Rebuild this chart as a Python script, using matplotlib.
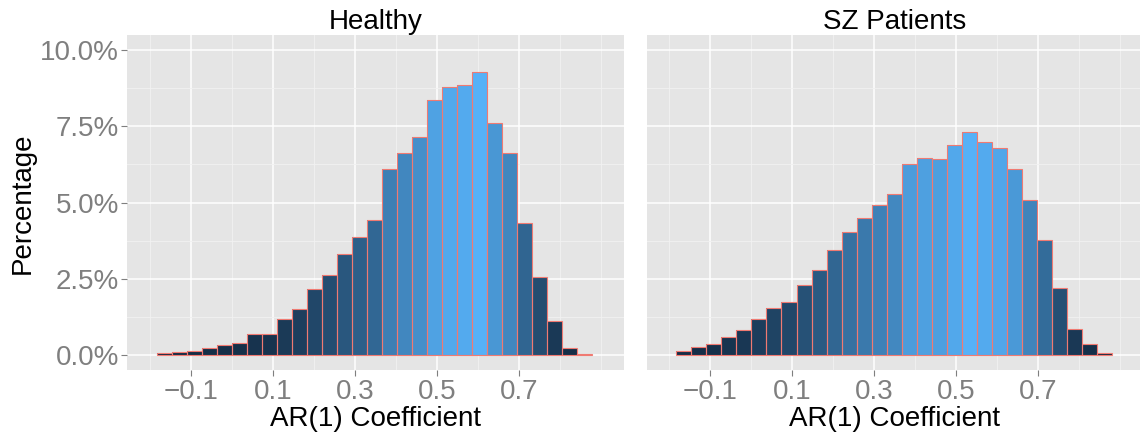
import numpy as np
import matplotlib
matplotlib.use("Agg")
import matplotlib.pyplot as plt

# Histogram of AR(1) coefficients: percentage of values per bin
bin_start = -0.182
bin_width = 0.0366
healthy_pct = [0.055, 0.11, 0.14, 0.24, 0.32, 0.40, 0.68, 0.68, 1.17, 1.51,
               2.17, 2.63, 3.31, 3.87, 4.44, 6.09, 6.61, 7.15, 8.35, 8.78,
               8.85, 9.29, 7.62, 6.61, 4.32, 2.57, 1.10, 0.24, 0.02]
sz_pct = [0.13, 0.27, 0.37, 0.60, 0.82, 1.17, 1.54, 1.73, 2.31, 2.78,
          3.44, 4.03, 4.49, 4.91, 5.27, 6.27, 6.47, 6.44, 6.88, 7.31,
          6.98, 6.78, 6.11, 5.07, 3.76, 2.20, 0.87, 0.36, 0.06]
panel_titles = ["Healthy", "SZ Patients"]
x_breaks = [-0.1, 0.1, 0.3, 0.5, 0.7]
x_minor = [-0.2, 0.0, 0.2, 0.4, 0.6, 0.8, 0.9]
y_breaks = [0.0, 2.5, 5.0, 7.5, 10.0]
y_minor = [1.25, 3.75, 6.25, 8.75]
y_labels = ["0.0%", "2.5%", "5.0%", "7.5%", "10.0%"]

plt.rcParams["font.family"] = ["Liberation Sans", "DejaVu Sans"]

# --- colour gradient in CIE Lab (low -> high) ---
def _hex_to_rgb(h):
    h = h.lstrip("#")
    return np.array([int(h[i:i + 2], 16) / 255 for i in (0, 2, 4)])

_M = np.array([[0.4124564, 0.3575761, 0.1804375],
               [0.2126729, 0.7151522, 0.0721750],
               [0.0193339, 0.1191920, 0.9503041]])
_WHITE = np.array([0.95047, 1.0, 1.08883])

def _rgb_to_lab(rgb):
    lin = np.where(rgb <= 0.04045, rgb / 12.92, ((rgb + 0.055) / 1.055) ** 2.4)
    xyz = _M @ lin / _WHITE
    f = np.where(xyz > 216 / 24389, np.cbrt(xyz), (24389 / 27 * xyz + 16) / 116)
    return np.array([116 * f[1] - 16, 500 * (f[0] - f[1]), 200 * (f[1] - f[2])])

def _lab_to_rgb(lab):
    L, a, b = lab
    fy = (L + 16) / 116
    fx = fy + a / 500
    fz = fy - b / 200
    f = np.array([fx, fy, fz])
    xyz = np.where(f ** 3 > 216 / 24389, f ** 3, (116 * f - 16) / (24389 / 27)) * _WHITE
    lin = np.linalg.solve(_M, xyz)
    rgb = np.where(lin <= 0.0031308, 12.92 * lin, 1.055 * np.clip(lin, 0, None) ** (1 / 2.4) - 0.055)
    return np.clip(rgb, 0, 1)

LOW, HIGH = _rgb_to_lab(_hex_to_rgb("#132B43")), _rgb_to_lab(_hex_to_rgb("#56B1F7"))

def gradient(values):
    v = np.asarray(values, float)
    t = (v - v.min()) / (v.max() - v.min())
    return [_lab_to_rgb(LOW + ti * (HIGH - LOW)) for ti in t]

# --- figure layout (pixel based) ---
W, H = 1140, 437
fig = plt.figure(figsize=(W / 100, H / 100), dpi=100)
panel_top, panel_bot = 34.7, 370.3
panel_w = 496.2
lefts = [127.3, 646.5]
xlim = (-0.255, 0.955)
ylim = (-0.5, 10.5)

for i, (pct, title) in enumerate(zip([healthy_pct, sz_pct], panel_titles)):
    ax = fig.add_axes([lefts[i] / W, 1 - panel_bot / H, panel_w / W, (panel_bot - panel_top) / H])
    ax.set_facecolor("#E5E5E5")
    for s in ax.spines.values():
        s.set_visible(False)
    ax.set_xlim(*xlim)
    ax.set_ylim(*ylim)

    ax.set_xticks(x_breaks)
    ax.set_xticklabels([f"{b:.1f}".replace("-", "\u2212") for b in x_breaks])
    ax.set_xticks(x_minor, minor=True)
    ax.set_yticks(y_breaks)
    ax.set_yticks(y_minor, minor=True)
    ax.grid(which="major", color="white", linewidth=1.1)
    ax.grid(which="minor", color="#F2F2F2", linewidth=0.6)
    ax.set_axisbelow(True)
    ax.tick_params(which="minor", length=0)
    ax.tick_params(axis="x", which="major", length=4, width=0.8, color="#7F7F7F",
                   labelcolor="#7F7F7F", labelsize=20, pad=2.5)
    if i == 0:
        ax.set_yticklabels(y_labels)
        ax.tick_params(axis="y", which="major", length=4, width=0.8, color="#7F7F7F",
                       labelcolor="#7F7F7F", labelsize=20, pad=2)
    else:
        ax.tick_params(axis="y", which="major", length=0, labelleft=False)

    n = len(pct)
    edges = bin_start + bin_width * np.arange(n)
    # fills first, outlines on top so every shared edge stays visible
    ax.bar(edges, pct, width=bin_width, align="edge", color=gradient(pct),
           linewidth=0, zorder=2)
    ax.bar(edges, pct, width=bin_width, align="edge", fill=False,
           edgecolor="#F07A72", linewidth=0.8, zorder=3)

    ax.set_title(title, fontsize=20, pad=2, color="black")
    cx = (lefts[i] + panel_w / 2) / W
    fig.text(cx, 1 - 426 / H, "AR(1) Coefficient", ha="center", va="baseline",
             fontsize=20, color="black")

fig.text(23 / W, 1 - 203 / H, "Percentage", rotation=90, ha="center", va="center",
         fontsize=20, color="black")

fig.savefig("out.png", dpi=100)
